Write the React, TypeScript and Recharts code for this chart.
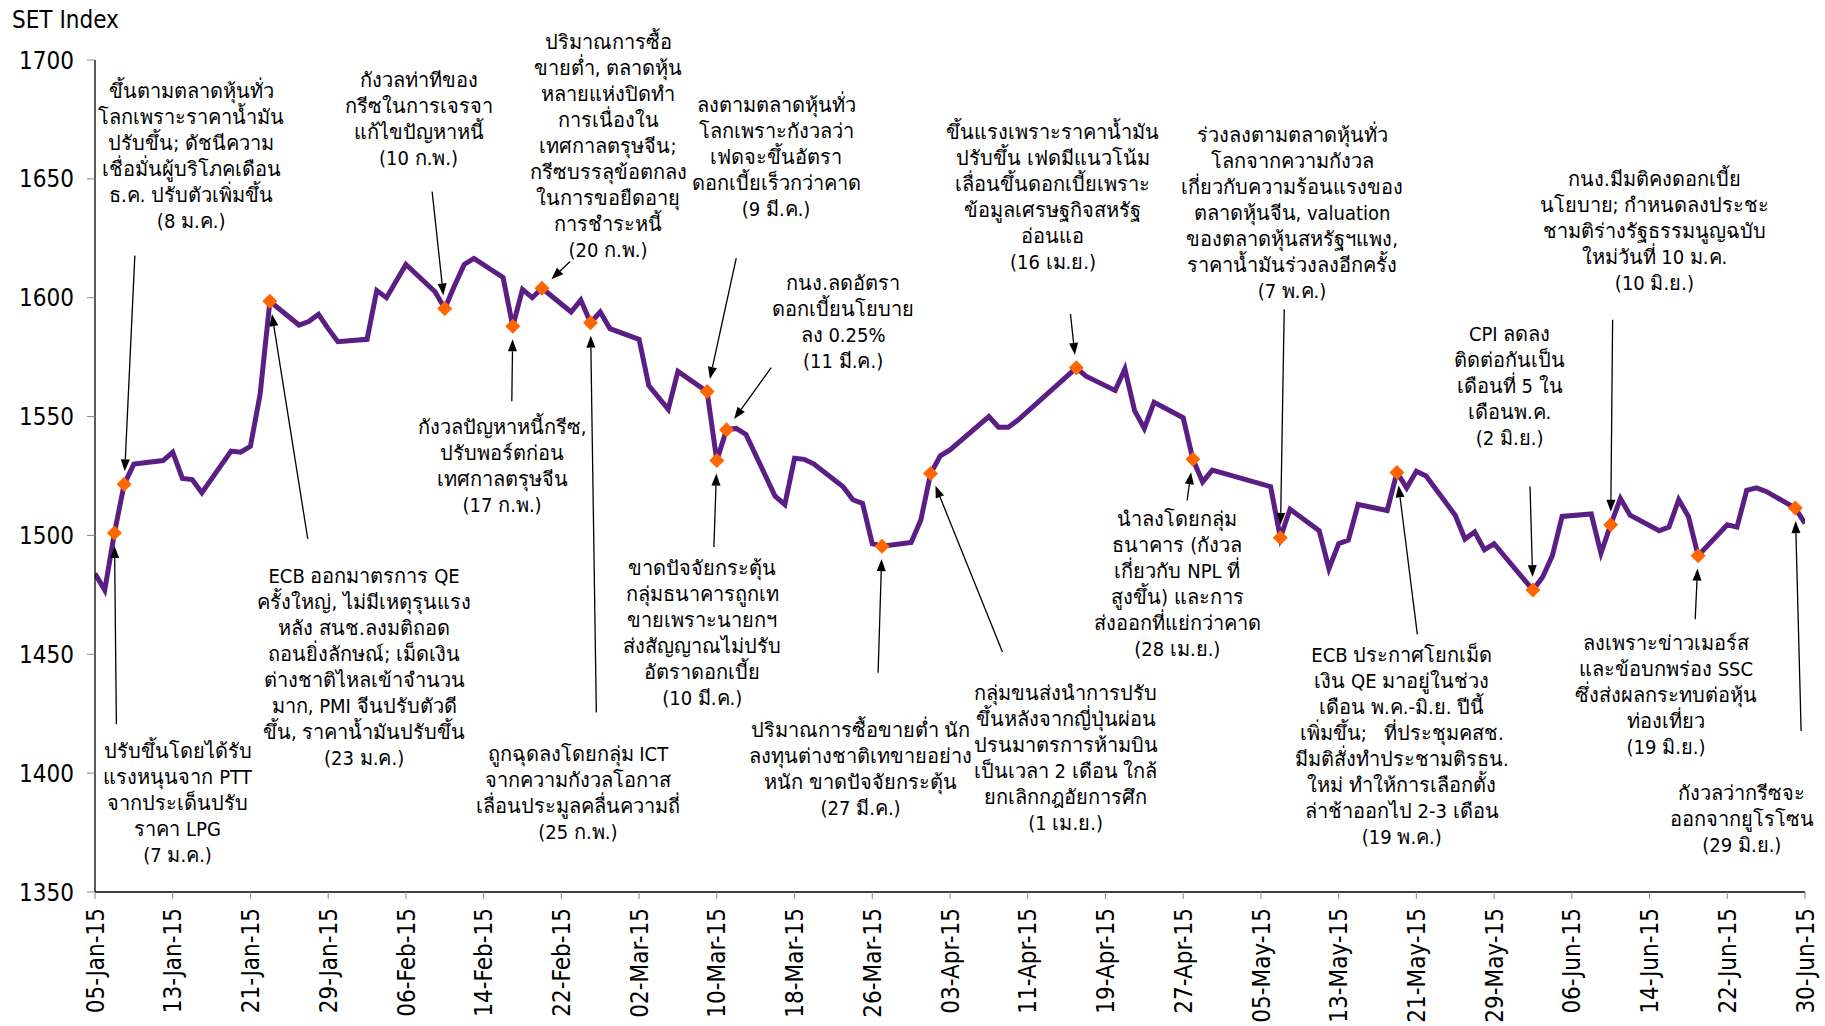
import { ComposedChart, Line, XAxis, YAxis, ReferenceLine, ReferenceDot } from 'recharts'

const FONT = "'DejaVu Sans Condensed', 'DejaVu Sans', sans-serif"
const MS_DAY = 86400000
const START = Date.UTC(2015, 0, 5)
const MONTHS = ['Jan', 'Feb', 'Mar', 'Apr', 'May', 'Jun', 'Jul', 'Aug', 'Sep', 'Oct', 'Nov', 'Dec']

// SET trading days, Jan-Jun 2015
const tradeDates = [
  '2015-01-05', '2015-01-06', '2015-01-07', '2015-01-08', '2015-01-09',
  '2015-01-12', '2015-01-13', '2015-01-14', '2015-01-15', '2015-01-16',
  '2015-01-19', '2015-01-20', '2015-01-21', '2015-01-22', '2015-01-23',
  '2015-01-26', '2015-01-27', '2015-01-28', '2015-01-29', '2015-01-30',
  '2015-02-02', '2015-02-03', '2015-02-04', '2015-02-05', '2015-02-06',
  '2015-02-09', '2015-02-10', '2015-02-11', '2015-02-12', '2015-02-13',
  '2015-02-16', '2015-02-17', '2015-02-18', '2015-02-19', '2015-02-20',
  '2015-02-23', '2015-02-24', '2015-02-25', '2015-02-26', '2015-02-27',
  '2015-03-02', '2015-03-03', '2015-03-05', '2015-03-06',
  '2015-03-09', '2015-03-10', '2015-03-11', '2015-03-12', '2015-03-13',
  '2015-03-16', '2015-03-17', '2015-03-18', '2015-03-19', '2015-03-20',
  '2015-03-23', '2015-03-24', '2015-03-25', '2015-03-26', '2015-03-27',
  '2015-03-30', '2015-03-31', '2015-04-01', '2015-04-02', '2015-04-03',
  '2015-04-07', '2015-04-08', '2015-04-09', '2015-04-10',
  '2015-04-16', '2015-04-17',
  '2015-04-20', '2015-04-21', '2015-04-22', '2015-04-23', '2015-04-24',
  '2015-04-27', '2015-04-28', '2015-04-29', '2015-04-30',
  '2015-05-06', '2015-05-07', '2015-05-08',
  '2015-05-11', '2015-05-12', '2015-05-13', '2015-05-14', '2015-05-15',
  '2015-05-18', '2015-05-19', '2015-05-20', '2015-05-21', '2015-05-22',
  '2015-05-25', '2015-05-26', '2015-05-27', '2015-05-28', '2015-05-29',
  '2015-06-02', '2015-06-03', '2015-06-04', '2015-06-05',
  '2015-06-08', '2015-06-09', '2015-06-10', '2015-06-11', '2015-06-12',
  '2015-06-15', '2015-06-16', '2015-06-17', '2015-06-18', '2015-06-19',
  '2015-06-22', '2015-06-23', '2015-06-24', '2015-06-25', '2015-06-26',
  '2015-06-29', '2015-06-30',
]

const setIndex = [
  1484, 1477, 1501, 1521.5, 1530,
  1531.5, 1535, 1524, 1523.5, 1518,
  1535.5, 1535, 1537.5, 1559.5, 1598.5,
  1588.5, 1590, 1593, 1587, 1581.5,
  1582.5, 1603, 1600, 1607, 1614,
  1602.5, 1595.5, 1605, 1614, 1616.5,
  1608.5, 1588, 1603.5, 1600, 1604,
  1594, 1599, 1589.5, 1594, 1587,
  1582.5, 1563, 1553, 1569,
  1560.5, 1531.5, 1544.5, 1545, 1542.5,
  1516.5, 1513, 1532.5, 1532, 1530,
  1520.5, 1515, 1513.5, 1496.5, 1495.5,
  1497, 1506.5, 1526, 1533.5, 1536,
  1550, 1545.5, 1545.5, 1548.5,
  1570.5, 1567,
  1561, 1570, 1552.5, 1545, 1556,
  1549.5, 1532, 1522.5, 1527.5,
  1520.5, 1499, 1511,
  1502, 1486, 1496.5, 1498, 1513,
  1510.5, 1526.5, 1520, 1527, 1525,
  1508.5, 1498.5, 1501.5, 1494, 1496.5,
  1477, 1482.5, 1491.5, 1508,
  1509, 1492.5, 1504.5, 1515.5, 1508.5,
  1502, 1503.5, 1515, 1508, 1491.5,
  1504.5, 1503.5, 1519, 1520, 1518.5,
  1511.5, 1505,
]

const tickDates = [
  '2015-01-05', '2015-01-13', '2015-01-21', '2015-01-29', '2015-02-06', '2015-02-14',
  '2015-02-22', '2015-03-02', '2015-03-10', '2015-03-18', '2015-03-26', '2015-04-03',
  '2015-04-11', '2015-04-19', '2015-04-27', '2015-05-05', '2015-05-13', '2015-05-21',
  '2015-05-29', '2015-06-06', '2015-06-14', '2015-06-22', '2015-06-30',
]
const yTicks = [1350, 1400, 1450, 1500, 1550, 1600, 1650, 1700]

// market events and their notes
const eventDates = [
  '2015-01-07', '2015-01-08', '2015-01-23', '2015-02-10', '2015-02-17',
  '2015-02-20', '2015-02-25', '2015-03-09', '2015-03-10', '2015-03-11',
  '2015-03-27', '2015-04-01', '2015-04-16', '2015-04-28', '2015-05-07',
  '2015-05-19', '2015-06-02', '2015-06-10', '2015-06-19', '2015-06-29',
]

const eventNotes = [
  ['ปรับขึ้นโดยได้รับ', 'แรงหนุนจาก PTT', 'จากประเด็นปรับ', 'ราคา LPG', '(7 ม.ค.)'],
  ['ขึ้นตามตลาดหุ้นทั่ว', 'โลกเพราะราคาน้ำมัน', 'ปรับขึ้น; ดัชนีความ', 'เชื่อมั่นผู้บริโภคเดือน', 'ธ.ค. ปรับตัวเพิ่มขึ้น', '(8 ม.ค.)'],
  ['ECB ออกมาตรการ QE', 'ครั้งใหญ่, ไม่มีเหตุรุนแรง', 'หลัง สนช.ลงมติถอด', 'ถอนยิ่งลักษณ์; เม็ดเงิน', 'ต่างชาติไหลเข้าจำนวน', 'มาก, PMI จีนปรับตัวดี', 'ขึ้น, ราคาน้ำมันปรับขึ้น', '(23 ม.ค.)'],
  ['กังวลท่าทีของ', 'กรีซในการเจรจา', 'แก้ไขปัญหาหนี้', '(10 ก.พ.)'],
  ['กังวลปัญหาหนี้กรีซ,', 'ปรับพอร์ตก่อน', 'เทศกาลตรุษจีน', '(17 ก.พ.)'],
  ['ปริมาณการซื้อ', 'ขายต่ำ, ตลาดหุ้น', 'หลายแห่งปิดทำ', 'การเนื่องใน', 'เทศกาลตรุษจีน;', 'กรีซบรรลุข้อตกลง', 'ในการขอยืดอายุ', 'การชำระหนี้', '(20 ก.พ.)'],
  ['ถูกฉุดลงโดยกลุ่ม ICT', 'จากความกังวลโอกาส', 'เลื่อนประมูลคลื่นความถี่', '(25 ก.พ.)'],
  ['ลงตามตลาดหุ้นทั่ว', 'โลกเพราะกังวลว่า', 'เฟดจะขึ้นอัตรา', 'ดอกเบี้ยเร็วกว่าคาด', '(9 มี.ค.)'],
  ['ขาดปัจจัยกระตุ้น', 'กลุ่มธนาคารถูกเท', 'ขายเพราะนายกฯ', 'ส่งสัญญาณไม่ปรับ', 'อัตราดอกเบี้ย', '(10 มี.ค.)'],
  ['กนง.ลดอัตรา', 'ดอกเบี้ยนโยบาย', 'ลง 0.25%', '(11 มี.ค.)'],
  ['ปริมาณการซื้อขายต่ำ นัก', 'ลงทุนต่างชาติเทขายอย่าง', 'หนัก ขาดปัจจัยกระตุ้น', '(27 มี.ค.)'],
  ['กลุ่มขนส่งนำการปรับ', 'ขึ้นหลังจากญี่ปุ่นผ่อน', 'ปรนมาตรการห้ามบิน', 'เป็นเวลา 2 เดือน ใกล้', 'ยกเลิกกฎอัยการศึก', '(1 เม.ย.)'],
  ['ขึ้นแรงเพราะราคาน้ำมัน', 'ปรับขึ้น เฟดมีแนวโน้ม', 'เลื่อนขึ้นดอกเบี้ยเพราะ', 'ข้อมูลเศรษฐกิจสหรัฐ', 'อ่อนแอ', '(16 เม.ย.)'],
  ['นำลงโดยกลุ่ม', 'ธนาคาร (กังวล', 'เกี่ยวกับ NPL ที่', 'สูงขึ้น) และการ', 'ส่งออกที่แย่กว่าคาด', '(28 เม.ย.)'],
  ['ร่วงลงตามตลาดหุ้นทั่ว', 'โลกจากความกังวล', 'เกี่ยวกับความร้อนแรงของ', 'ตลาดหุ้นจีน, valuation', 'ของตลาดหุ้นสหรัฐฯแพง,', 'ราคาน้ำมันร่วงลงอีกครั้ง', '(7 พ.ค.)'],
  ['ECB ประกาศโยกเม็ด', 'เงิน QE มาอยู่ในช่วง', 'เดือน พ.ค.-มิ.ย. ปีนี้', 'เพิ่มขึ้น;   ที่ประชุมคสช.', 'มีมติสั่งทำประชามติรธน.', 'ใหม่ ทำให้การเลือกตั้ง', 'ล่าช้าออกไป 2-3 เดือน', '(19 พ.ค.)'],
  ['CPI ลดลง', 'ติดต่อกันเป็น', 'เดือนที่ 5 ใน', 'เดือนพ.ค.', '(2 มิ.ย.)'],
  ['กนง.มีมติคงดอกเบี้ย', 'นโยบาย; กำหนดลงประชะ', 'ชามติร่างรัฐธรรมนูญฉบับ', 'ใหม่วันที่ 10 ม.ค.', '(10 มิ.ย.)'],
  ['ลงเพราะข่าวเมอร์ส', 'และข้อบกพร่อง SSC', 'ซึ่งส่งผลกระทบต่อหุ้น', 'ท่องเที่ยว', '(19 มิ.ย.)'],
  ['กังวลว่ากรีซจะ', 'ออกจากยูโรโซน', '(29 มิ.ย.)'],
]

// where each note sits and where its arrow starts, in axis units (day, index)
const noteSpots = [
  { text: [8.5, 1409.3], tail: [2.2, 1420.6] },
  { text: [9.9, 1686.8], tail: [4.1, 1617.7] },
  { text: [27.7, 1482.9], tail: [21.9, 1498.5] },
  { text: [33.3, 1691.7], tail: [34.7, 1644.6] },
  { text: [41.9, 1545.6], tail: [42.9, 1556.4] },
  { text: [52.8, 1707.4], tail: [48.9, 1615.2] },
  { text: [49.7, 1407.9], tail: [51.6, 1425.5] },
  { text: [70.1, 1680.9], tail: [66.0, 1616.7] },
  { text: [62.5, 1486.3], tail: [63.7, 1495.1] },
  { text: [77.0, 1606.4], tail: [69.6, 1570.6] },
  { text: [78.8, 1418.2], tail: [80.6, 1442.2] },
  { text: [99.9, 1433.8], tail: [93.4, 1451.0] },
  { text: [98.6, 1669.6], tail: [100.4, 1593.1] },
  { text: [111.4, 1506.9], tail: [112.4, 1514.7] },
  { text: [123.2, 1668.6], tail: [122.4, 1595.1] },
  { text: [134.5, 1449.5], tail: [136.1, 1458.4] },
  { text: [145.6, 1584.8], tail: [147.7, 1520.6] },
  { text: [160.5, 1650.0], tail: [156.2, 1590.7] },
  { text: [161.7, 1454.9], tail: [164.7, 1464.7] },
  { text: [169.5, 1391.7], tail: [175.6, 1417.7] },
]

const dayOf = (iso: string) => {
  const [y, m, d] = iso.split('-').map(Number)
  return (Date.UTC(y, m - 1, d) - START) / MS_DAY
}

const fmtDay = (day: number) => {
  const dt = new Date(START + day * MS_DAY)
  const dd = String(dt.getUTCDate()).padStart(2, '0')
  return `${dd}-${MONTHS[dt.getUTCMonth()]}-${String(dt.getUTCFullYear()).slice(2)}`
}

const rows = tradeDates.map((d, i) => ({ day: dayOf(d), date: d, value: setIndex[i] }))
const valueOn = (iso: string) => setIndex[tradeDates.indexOf(iso)]

const DateTick = ({ x, y, payload }: any) => (
  <text
    x={x}
    y={y}
    transform={`rotate(-90, ${x}, ${y})`}
    textAnchor="end"
    dy="0.36em"
    fontFamily={FONT}
    fontSize={24}
    fill="#000"
  >
    {fmtDay(payload.value)}
  </text>
)

const EventDot = (props: any) => {
  const { cx, cy, payload, index } = props
  if (!eventDates.includes(payload.date)) return <g key={`d${index}`} />
  const s = 7.5
  return (
    <polygon
      key={`d${index}`}
      points={`${cx},${cy - s} ${cx + s},${cy} ${cx},${cy + s} ${cx - s},${cy}`}
      fill="#ff6600"
    />
  )
}

// thin arrow that stops short of the point it marks
const Arrow = ({ x1, y1, x2, y2 }: any) => {
  const dx = x2 - x1
  const dy = y2 - y1
  const len = Math.hypot(dx, dy) || 1
  const ux = dx / len
  const uy = dy / len
  const gap = 13
  const head = 12
  const ex = x2 - ux * gap
  const ey = y2 - uy * gap
  const bx = ex - ux * head
  const by = ey - uy * head
  const w = 4.5
  return (
    <g>
      <line x1={x1} y1={y1} x2={bx} y2={by} stroke="#000" strokeWidth={1.3} />
      <polygon
        points={`${ex},${ey} ${bx - uy * w},${by + ux * w} ${bx + uy * w},${by - ux * w}`}
        fill="#000"
      />
    </g>
  )
}

const NoteText = ({ cx, cy, lines }: { cx: number; cy: number; lines: string[] }) => (
  <text
    x={cx}
    y={cy}
    textAnchor="middle"
    fontFamily={FONT}
    fontSize={20}
    fill="#000"
    style={{ whiteSpace: 'pre' }}
  >
    {lines.map((l, i) => (
      <tspan key={i} x={cx} dy={i === 0 ? '0.35em' : 26}>
        {l}
      </tspan>
    ))}
  </text>
)

export default function App() {
  return (
    <div style={{ position: 'absolute', left: 0, top: 0, width: 1825, height: 1026, background: '#fff' }}>
      <div
        style={{
          position: 'absolute',
          left: 12,
          top: 5,
          fontFamily: FONT,
          fontSize: 24,
          color: '#000',
          lineHeight: '30px',
        }}
      >
        SET Index
      </div>
      <ComposedChart
        width={1825}
        height={1026}
        data={rows}
        margin={{ top: 60, right: 20, bottom: 0, left: 35 }}
      >
        <XAxis
          type="number"
          dataKey="day"
          domain={[0, 176]}
          ticks={tickDates.map(dayOf)}
          interval={0}
          allowDataOverflow
          height={134}
          tickSize={7}
          tickMargin={9}
          axisLine={{ stroke: '#000', strokeWidth: 1.3 }}
          tickLine={{ stroke: '#888' }}
          tick={<DateTick />}
        />
        <YAxis
          domain={[1350, 1700]}
          ticks={yTicks}
          interval={0}
          allowDataOverflow
          width={60}
          tickSize={8}
          tickMargin={13}
          axisLine={{ stroke: '#000', strokeWidth: 1.3 }}
          tickLine={{ stroke: '#888' }}
          tick={{ fill: '#000', fontSize: 24, fontFamily: FONT }}
        />
        <Line
          type="linear"
          dataKey="value"
          stroke="#5a1e84"
          strokeWidth={5}
          dot={EventDot}
          activeDot={false}
          isAnimationActive={false}
        />
        {eventDates.map((d, i) => (
          <ReferenceLine
            key={`a${d}`}
            ifOverflow="visible"
            segment={[
              { x: noteSpots[i].tail[0], y: noteSpots[i].tail[1] },
              { x: dayOf(d), y: valueOn(d) },
            ]}
            shape={(p: any) => <Arrow {...p} />}
          />
        ))}
        {eventDates.map((d, i) => (
          <ReferenceDot
            key={`n${d}`}
            ifOverflow="visible"
            x={noteSpots[i].text[0]}
            y={noteSpots[i].text[1]}
            shape={(p: any) => <NoteText cx={p.cx} cy={p.cy} lines={eventNotes[i]} />}
          />
        ))}
      </ComposedChart>
    </div>
  )
}
